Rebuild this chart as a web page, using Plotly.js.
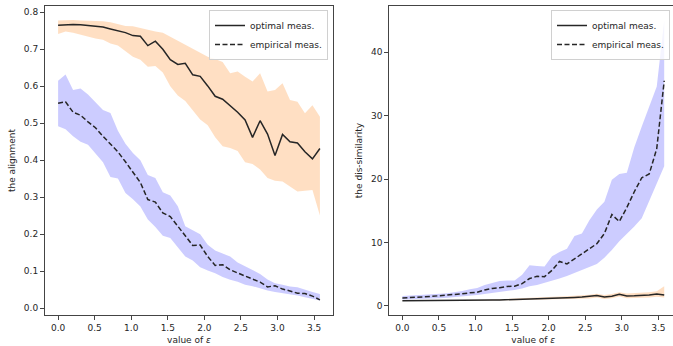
<!DOCTYPE html>
<html><head><meta charset="utf-8">
<script src="https://cdn.plot.ly/plotly-3.0.1.min.js"></script>
<style>html,body{margin:0;padding:0;overflow:hidden;background:#fff}#chart{width:680px;height:346px}</style>
</head><body><div id="chart"></div>
<script>
// value of epsilon (shared x values, 36 points)
const epsilon = [0, 0.102, 0.205, 0.307, 0.409, 0.511, 0.614, 0.716, 0.818, 0.921, 1.023, 1.125, 1.227, 1.330, 1.432, 1.534, 1.637, 1.739, 1.841, 1.943, 2.046, 2.148, 2.250, 2.353, 2.455, 2.557, 2.659, 2.762, 2.864, 2.966, 3.069, 3.171, 3.273, 3.375, 3.478, 3.580];

// Left panel: the alignment
const alignOptimal = [0.765, 0.767, 0.767, 0.766, 0.764, 0.762, 0.760, 0.755, 0.751, 0.745, 0.737, 0.735, 0.710, 0.722, 0.700, 0.672, 0.659, 0.662, 0.631, 0.627, 0.601, 0.573, 0.565, 0.547, 0.530, 0.509, 0.462, 0.507, 0.471, 0.413, 0.470, 0.450, 0.447, 0.423, 0.404, 0.432];
const alignOptimalHi = [0.778, 0.779, 0.779, 0.778, 0.778, 0.777, 0.776, 0.773, 0.768, 0.763, 0.762, 0.757, 0.753, 0.748, 0.745, 0.735, 0.723, 0.712, 0.701, 0.692, 0.680, 0.674, 0.666, 0.635, 0.640, 0.626, 0.613, 0.635, 0.586, 0.590, 0.608, 0.563, 0.558, 0.527, 0.549, 0.518];
const alignOptimalLo = [0.741, 0.748, 0.745, 0.739, 0.733, 0.729, 0.726, 0.716, 0.710, 0.694, 0.680, 0.672, 0.653, 0.655, 0.637, 0.600, 0.575, 0.560, 0.535, 0.510, 0.495, 0.462, 0.438, 0.433, 0.425, 0.395, 0.390, 0.375, 0.352, 0.345, 0.343, 0.330, 0.316, 0.318, 0.320, 0.251];
const alignEmpirical = [0.554, 0.558, 0.530, 0.522, 0.504, 0.488, 0.465, 0.445, 0.423, 0.396, 0.368, 0.340, 0.294, 0.287, 0.258, 0.248, 0.222, 0.195, 0.170, 0.171, 0.140, 0.116, 0.118, 0.104, 0.095, 0.087, 0.079, 0.071, 0.058, 0.061, 0.052, 0.047, 0.041, 0.040, 0.033, 0.023];
const alignEmpiricalHi = [0.615, 0.632, 0.590, 0.594, 0.578, 0.558, 0.536, 0.528, 0.480, 0.445, 0.420, 0.400, 0.360, 0.352, 0.314, 0.305, 0.276, 0.222, 0.211, 0.200, 0.172, 0.156, 0.148, 0.140, 0.124, 0.114, 0.104, 0.093, 0.078, 0.068, 0.064, 0.059, 0.057, 0.050, 0.044, 0.039];
const alignEmpiricalLo = [0.492, 0.484, 0.465, 0.450, 0.442, 0.420, 0.395, 0.355, 0.351, 0.312, 0.295, 0.275, 0.240, 0.220, 0.196, 0.190, 0.165, 0.140, 0.129, 0.111, 0.102, 0.095, 0.085, 0.077, 0.072, 0.064, 0.060, 0.053, 0.048, 0.044, 0.041, 0.039, 0.035, 0.030, 0.026, 0.021];

// Right panel: the dis-similarity
const dissimOptimal = [0.80, 0.80, 0.80, 0.81, 0.81, 0.82, 0.82, 0.83, 0.84, 0.85, 0.87, 0.88, 0.90, 0.93, 0.96, 0.99, 1.02, 1.07, 1.10, 1.15, 1.20, 1.24, 1.28, 1.33, 1.38, 1.45, 1.62, 1.38, 1.50, 1.82, 1.55, 1.58, 1.62, 1.72, 1.85, 1.70];
const dissimOptimalHi = [0.85, 0.85, 0.85, 0.86, 0.86, 0.87, 0.88, 0.89, 0.90, 0.92, 0.94, 0.96, 0.99, 1.03, 1.07, 1.11, 1.15, 1.22, 1.27, 1.33, 1.40, 1.46, 1.52, 1.58, 1.65, 1.74, 1.92, 1.72, 1.85, 2.15, 1.95, 2.00, 2.05, 2.15, 2.30, 3.10];
const dissimOptimalLo = [0.75, 0.75, 0.75, 0.76, 0.76, 0.77, 0.77, 0.78, 0.78, 0.79, 0.80, 0.81, 0.82, 0.84, 0.86, 0.88, 0.90, 0.93, 0.95, 0.98, 1.01, 1.03, 1.06, 1.09, 1.12, 1.16, 1.32, 1.08, 1.18, 1.48, 1.20, 1.22, 1.25, 1.32, 1.42, 1.30];
const dissimEmpirical = [1.25, 1.28, 1.35, 1.42, 1.50, 1.58, 1.68, 1.78, 1.90, 2.05, 2.15, 2.50, 2.75, 2.85, 3.05, 3.10, 3.50, 4.30, 4.65, 4.60, 5.60, 7.00, 6.60, 7.40, 8.20, 8.90, 9.80, 11.4, 14.4, 13.3, 15.5, 18.0, 20.2, 20.8, 24.8, 35.5];
const dissimEmpiricalHi = [1.55, 1.60, 1.65, 1.72, 1.80, 1.90, 2.00, 2.15, 2.35, 2.60, 2.80, 3.30, 3.60, 3.90, 4.00, 4.00, 4.90, 6.40, 6.30, 6.20, 7.80, 8.50, 9.00, 11.0, 11.4, 13.5, 15.2, 16.4, 19.9, 20.8, 21.0, 25.0, 28.3, 31.4, 34.6, 45.0];
const dissimEmpiricalLo = [1.00, 1.02, 1.06, 1.10, 1.15, 1.20, 1.27, 1.35, 1.45, 1.55, 1.70, 1.85, 2.00, 2.20, 2.35, 2.50, 2.75, 3.10, 3.30, 3.60, 3.90, 4.30, 4.70, 5.20, 5.70, 6.10, 6.60, 7.60, 8.80, 10.2, 11.3, 12.5, 13.8, 16.5, 19.4, 22.0];

const legendNames = ['optimal meas.', 'empirical meas.'];
const xTickVals = [0, 0.5, 1, 1.5, 2, 2.5, 3, 3.5];

const ORANGE = 'rgba(255,127,14,0.25)';
const BLUE = 'rgba(0,0,255,0.2)';
const LINE = '#262626';

function band(xa, ya, lo, hi, color) {
  return [
    {x: epsilon, y: lo, xaxis: xa, yaxis: ya, mode: 'lines', line: {width: 0}, showlegend: false, hoverinfo: 'skip'},
    {x: epsilon, y: hi, xaxis: xa, yaxis: ya, mode: 'lines', line: {width: 0}, fill: 'tonexty', fillcolor: color, showlegend: false, hoverinfo: 'skip'}
  ];
}
function line(xa, ya, y, name, dash, leg) {
  return {x: epsilon, y: y, xaxis: xa, yaxis: ya, mode: 'lines', name: name,
    line: {color: LINE, width: 1.5, dash: dash}, legend: leg};
}

const traces = [].concat(
  band('x', 'y', alignOptimalLo, alignOptimalHi, ORANGE),
  band('x', 'y', alignEmpiricalLo, alignEmpiricalHi, BLUE),
  [line('x', 'y', alignOptimal, legendNames[0], 'solid', 'legend'),
   line('x', 'y', alignEmpirical, legendNames[1], '5px,2.5px', 'legend')],
  band('x2', 'y2', dissimOptimalLo, dissimOptimalHi, ORANGE),
  band('x2', 'y2', dissimEmpiricalLo, dissimEmpiricalHi, BLUE),
  [line('x2', 'y2', dissimOptimal, legendNames[0], 'solid', 'legend2'),
   line('x2', 'y2', dissimEmpirical, legendNames[1], '5px,2.5px', 'legend2')]
);

const W = 680, H = 346;
const font = {family: 'DejaVu Sans', size: 9, color: '#262626'};
const axisBase = {showline: true, mirror: true, linecolor: '#444', linewidth: 1,
  ticks: 'outside', ticklen: 4, tickwidth: 1, tickcolor: '#444',
  showgrid: false, zeroline: false, tickfont: font};
const yDom = [(H - 315) / H, (H - 6) / H];

const layout = {
  width: W, height: H, margin: {l: 0, r: 0, t: 0, b: 0},
  paper_bgcolor: '#fff', plot_bgcolor: '#fff', font: font,
  xaxis: Object.assign({}, axisBase, {domain: [45 / W, 333 / W], range: [-0.179, 3.759],
    tickvals: xTickVals, tickformat: '.1f', anchor: 'y',
    title: {text: 'value of <i>ε</i>', font: font, standoff: 4}}),
  yaxis: Object.assign({}, axisBase, {domain: yDom, range: [-0.018, 0.817], dtick: 0.1, tickformat: '.1f', anchor: 'x',
    title: {text: 'the alignment', font: font, standoff: 6}}),
  xaxis2: Object.assign({}, axisBase, {domain: [389.3 / W, 677.3 / W], range: [-0.179, 3.759],
    tickvals: xTickVals, tickformat: '.1f', anchor: 'y2',
    title: {text: 'value of <i>ε</i>', font: font, standoff: 4}}),
  yaxis2: Object.assign({}, axisBase, {domain: yDom, range: [-1.45, 47.3], dtick: 10, anchor: 'x2',
    title: {text: 'the dis-similarity', font: font, standoff: 6}}),
  legend: {x: 328 / W, xanchor: 'right', y: 1 - 10 / H, yanchor: 'top', traceorder: 'normal',
    bgcolor: 'rgba(255,255,255,0.8)', bordercolor: '#d0d0d0', borderwidth: 1, font: font,
    tracegroupgap: 0, itemwidth: 30},
  legend2: {x: 670 / W, xanchor: 'right', y: 1 - 10 / H, yanchor: 'top', traceorder: 'normal',
    bgcolor: 'rgba(255,255,255,0.8)', bordercolor: '#d0d0d0', borderwidth: 1, font: font,
    tracegroupgap: 0, itemwidth: 30},
  showlegend: true
};

Plotly.newPlot('chart', traces, layout, {displayModeBar: false, staticPlot: true});
</script></body></html>
